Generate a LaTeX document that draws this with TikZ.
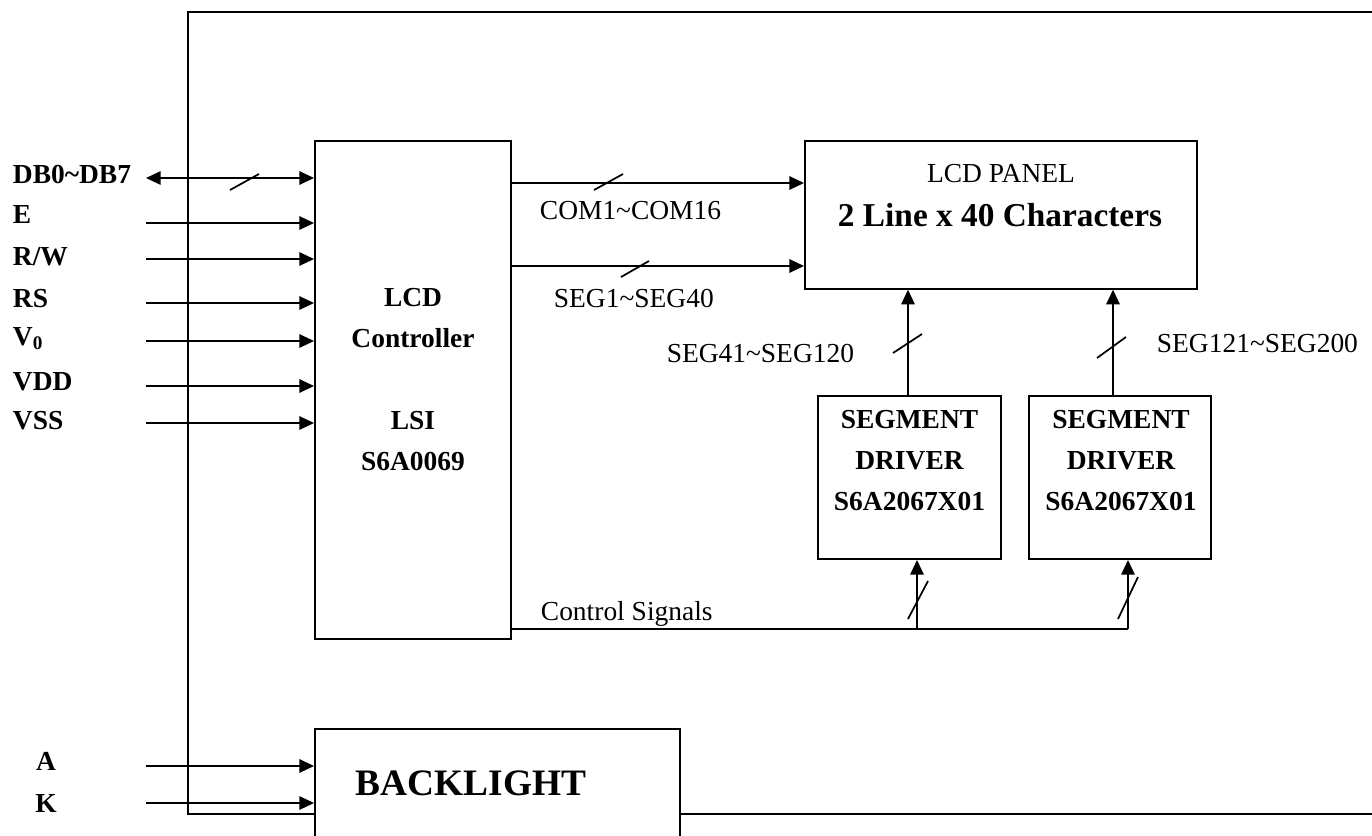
\documentclass[tikz,border=0pt]{standalone}
\usepackage{fontspec}
\setmainfont{Liberation Serif}
\usetikzlibrary{arrows.meta}

\begin{document}
\begin{tikzpicture}[
    x=0.75pt, y=-0.75pt, line width=1.4pt,
    block/.style={draw, rectangle, inner sep=0pt, fill=white},
    txt/.style={font=\fontsize{20.6}{30.75}\selectfont, inner sep=0pt, align=center},
    btxt/.style={font=\fontsize{20.6}{30.75}\selectfont\bfseries, inner sep=0pt, align=center},
    sig/.style={-{Triangle[length=11pt, width=10pt]}},
    bisig/.style={{Triangle[length=11pt, width=10pt]}-{Triangle[length=11pt, width=10pt]}},
    busmark/.style={line width=1.3pt}
]
\useasboundingbox (0,0) rectangle (1372,836);
\clip (0,0) rectangle (1372,836);

% --- module frame ---
\draw (1372,12) -- (188,12) -- (188,814) -- (1372,814);

% --- blocks ---
\node[block, minimum width=147pt, minimum height=373.5pt] (ctrl) at (413,390) {};
\node[block, minimum width=294pt, minimum height=110.6pt] (panel) at (1001,215) {};
\node[block, minimum width=137.25pt, minimum height=122.25pt] (seg1) at (909.5,477.5) {};
\node[block, minimum width=136.5pt, minimum height=122.25pt] (seg2) at (1120,477.5) {};
\node[block, minimum width=273.75pt, minimum height=98.25pt] (back) at (497.5,794.5) {};

% --- block texts ---
\node[btxt] (ctrltxt) at (413,380) {LCD\\Controller\\[30.75pt]LSI\\S6A0069};
\node[txt, anchor=base] (paneltitle) at (1001,182) {LCD PANEL};
\node[btxt, anchor=base, font=\fontsize{25}{30}\selectfont\bfseries] (paneltxt) at (1000,226) {2 Line x 40 Characters};
\node[btxt] (seg1txt) at (909.5,460.5) {SEGMENT\\DRIVER\\S6A2067X01};
\node[btxt] (seg2txt) at (1121,460.5) {SEGMENT\\DRIVER\\S6A2067X01};
\node[btxt, anchor=base, font=\fontsize{28}{32}\selectfont\bfseries] (backtxt) at (471,795) {BACKLIGHT};

% --- pin labels ---
\node[btxt, anchor=base west] (dblbl) at (12,183) {DB0\textasciitilde DB7};
\node[btxt, anchor=base west] (elbl) at (12,223) {E};
\node[btxt, anchor=base west] (rwlbl) at (12,265) {R/W};
\node[btxt, anchor=base west] (rslbl) at (12,307) {RS};
\node[btxt, anchor=base west] (v0lbl) at (12,345) {V\textsubscript{0}};
\node[btxt, anchor=base west] (vddlbl) at (12,390) {VDD};
\node[btxt, anchor=base west] (vsslbl) at (12,429) {VSS};
\node[btxt, anchor=base] (albl) at (46,770) {A};
\node[btxt, anchor=base] (klbl) at (46,812) {K};

% --- pin inputs ---
\coordinate (dbin) at (146,178);
\coordinate (ein) at (146,223);
\coordinate (rwin) at (146,259);
\coordinate (rsin) at (146,303);
\coordinate (v0in) at (146,341);
\coordinate (vddin) at (146,386);
\coordinate (vssin) at (146,423);
\coordinate (ain) at (146,766);
\coordinate (kin) at (146,803);

\draw[bisig] (dbin) -- (dbin -| ctrl.west);
\draw[sig] (ein) -- (ein -| ctrl.west);
\draw[sig] (rwin) -- (rwin -| ctrl.west);
\draw[sig] (rsin) -- (rsin -| ctrl.west);
\draw[sig] (v0in) -- (v0in -| ctrl.west);
\draw[sig] (vddin) -- (vddin -| ctrl.west);
\draw[sig] (vssin) -- (vssin -| ctrl.west);
\draw[sig] (ain) -- (ain -| back.west);
\draw[sig] (kin) -- (kin -| back.west);

% --- controller to panel ---
\coordinate (comout) at (511,183);
\coordinate (segout) at (511,266);
\draw[sig] (comout) -- (comout -| panel.west);
\draw[sig] (segout) -- (segout -| panel.west);
\node[txt, anchor=base west] (comlbl) at (539,219) {COM1\textasciitilde COM16};
\node[txt, anchor=base west] (seglbl) at (553,307) {SEG1\textasciitilde SEG40};

% --- drivers to panel ---
\coordinate (s1top) at (908,396);
\coordinate (s2top) at (1113,396);
\draw[sig] (s1top) -- (s1top |- panel.south);
\draw[sig] (s2top) -- (s2top |- panel.south);
\node[txt, anchor=base east] (seg1lbl) at (855,362) {SEG41\textasciitilde SEG120};
\node[txt, anchor=base west] (seg2lbl) at (1156,352) {SEG121\textasciitilde SEG200};

% --- control signals ---
\coordinate (c1) at (917,629);
\coordinate (c2) at (1128,629);
\draw (ctrl.east |- c2) -- (c2);
\draw[sig] (c1) -- (c1 |- seg1.south);
\draw[sig] (c2) -- (c2 |- seg2.south);
\node[txt, anchor=base west] (ctrllbl) at (540,620) {Control Signals};

% --- bus marks ---
\draw[busmark] (230,190) -- (259,174);
\draw[busmark] (594,190) -- (623,174);
\draw[busmark] (621,277) -- (649,261);
\draw[busmark] (893,353) -- (922,334);
\draw[busmark] (1097,358) -- (1126,337);
\draw[busmark] (908,619) -- (928,581);
\draw[busmark] (1118,619) -- (1138,577);

\end{tikzpicture}
\end{document}
